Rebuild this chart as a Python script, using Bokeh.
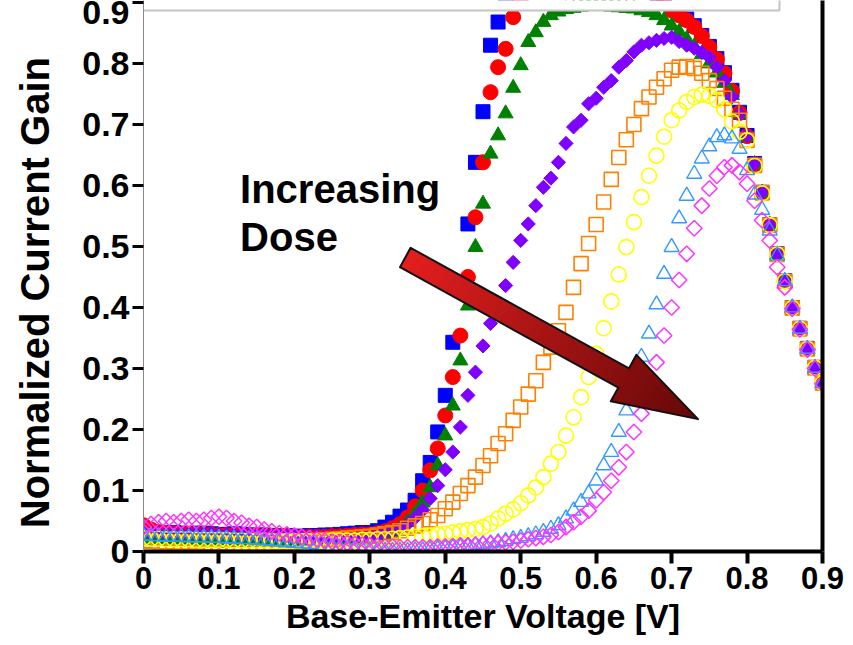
import math
from bokeh.plotting import figure
from bokeh.models import (Range1d, LinearAxis, FixedTicker, CustomJSTickFormatter,
                          ColumnDataSource)
from bokeh.core.properties import value
from bokeh.embed import file_html
from bokeh.resources import INLINE

# ---------------- data ----------------
VOLTAGE = [0.00, 0.01, 0.02, 0.03, 0.04, 0.05, 0.06, 0.07, 0.08, 0.09,
           0.10, 0.11, 0.12, 0.13, 0.14, 0.15, 0.16, 0.17, 0.18, 0.19,
           0.20, 0.21, 0.22, 0.23, 0.24, 0.25, 0.26, 0.27, 0.28, 0.29,
           0.30, 0.31, 0.32, 0.33, 0.34, 0.35, 0.36, 0.37, 0.38, 0.39,
           0.40, 0.41, 0.42, 0.43, 0.44, 0.45, 0.46, 0.47, 0.48, 0.49,
           0.50, 0.51, 0.52, 0.53, 0.54, 0.55, 0.56, 0.57, 0.58, 0.59,
           0.60, 0.61, 0.62, 0.63, 0.64, 0.65, 0.66, 0.67, 0.68, 0.69,
           0.70, 0.71, 0.72, 0.73, 0.74, 0.75, 0.76, 0.77, 0.78, 0.79,
           0.80, 0.81, 0.82, 0.83, 0.84, 0.85, 0.86, 0.87, 0.88, 0.89, 0.90]

GAIN_BLUE = [0.032, 0.031, 0.030, 0.030, 0.031, 0.030, 0.029, 0.030, 0.030, 0.029,
             0.028, 0.028, 0.029, 0.028, 0.027, 0.027, 0.027, 0.026, 0.026, 0.026,
             0.025, 0.025, 0.026, 0.026, 0.027, 0.027, 0.028, 0.029, 0.030, 0.031,
             0.031, 0.034, 0.040, 0.048, 0.058, 0.068, 0.084, 0.116, 0.146, 0.196,
             0.256, 0.343, 0.440, 0.537, 0.638, 0.721, 0.830, 0.868, 0.902, 0.925,
             0.940, 0.950, 0.958, 0.963, 0.967, 0.970, 0.972, 0.973, 0.973, 0.972,
             0.970, 0.967, 0.963, 0.958, 0.952, 0.945, 0.937, 0.927, 0.915, 0.903,
             0.890, 0.882, 0.873, 0.862, 0.846, 0.828, 0.808, 0.785, 0.756, 0.720,
             0.682, 0.636, 0.589, 0.536, 0.488, 0.444, 0.400, 0.366, 0.333, 0.302, 0.277]

GAIN_RED = [0.043, 0.036, 0.032, 0.030, 0.030, 0.029, 0.029, 0.028, 0.028, 0.028,
            0.027, 0.027, 0.027, 0.026, 0.026, 0.026, 0.025, 0.025, 0.025, 0.025,
            0.024, 0.024, 0.024, 0.024, 0.024, 0.025, 0.025, 0.026, 0.027, 0.028,
            0.028, 0.030, 0.033, 0.038, 0.045, 0.056, 0.074, 0.100, 0.133, 0.169,
            0.223, 0.286, 0.354, 0.450, 0.548, 0.638, 0.753, 0.794, 0.824, 0.876,
            0.905, 0.922, 0.935, 0.945, 0.952, 0.958, 0.962, 0.965, 0.966, 0.966,
            0.965, 0.963, 0.960, 0.955, 0.949, 0.942, 0.933, 0.923, 0.912, 0.900,
            0.887, 0.879, 0.871, 0.860, 0.845, 0.827, 0.807, 0.784, 0.755, 0.719,
            0.681, 0.635, 0.588, 0.535, 0.487, 0.443, 0.400, 0.365, 0.332, 0.301, 0.276]

GAIN_GREEN = [0.020, 0.018, 0.017, 0.017, 0.016, 0.016, 0.016, 0.015, 0.015, 0.015,
              0.015, 0.014, 0.014, 0.014, 0.015, 0.015, 0.015, 0.016, 0.016, 0.017,
              0.017, 0.018, 0.018, 0.019, 0.019, 0.020, 0.020, 0.021, 0.021, 0.022,
              0.022, 0.024, 0.027, 0.032, 0.038, 0.048, 0.062, 0.080, 0.105, 0.141,
              0.190, 0.239, 0.313, 0.403, 0.499, 0.570, 0.652, 0.682, 0.718, 0.760,
              0.797, 0.835, 0.851, 0.868, 0.879, 0.885, 0.889, 0.891, 0.893, 0.894,
              0.894, 0.894, 0.893, 0.892, 0.891, 0.890, 0.887, 0.884, 0.879, 0.871,
              0.862, 0.852, 0.840, 0.828, 0.815, 0.800, 0.785, 0.768, 0.748, 0.718,
              0.681, 0.635, 0.588, 0.536, 0.487, 0.443, 0.399, 0.365, 0.332, 0.301, 0.276]

GAIN_PURPLE = [0.031, 0.030, 0.030, 0.029, 0.030, 0.029, 0.029, 0.030, 0.029, 0.029,
               0.028, 0.028, 0.028, 0.027, 0.027, 0.027, 0.026, 0.026, 0.026, 0.025,
               0.025, 0.024, 0.024, 0.024, 0.023, 0.023, 0.023, 0.023, 0.024, 0.024,
               0.025, 0.027, 0.030, 0.033, 0.038, 0.045, 0.055, 0.068, 0.087, 0.108,
               0.134, 0.163, 0.204, 0.256, 0.294, 0.337, 0.374, 0.405, 0.436, 0.474,
               0.510, 0.537, 0.567, 0.597, 0.612, 0.638, 0.669, 0.696, 0.707, 0.734,
               0.743, 0.761, 0.772, 0.794, 0.805, 0.819, 0.830, 0.834, 0.838, 0.841,
               0.843, 0.836, 0.830, 0.825, 0.818, 0.810, 0.794, 0.772, 0.745, 0.718,
               0.682, 0.636, 0.589, 0.536, 0.488, 0.444, 0.400, 0.366, 0.333, 0.302, 0.277]

GAIN_ORANGE = [0.018, 0.017, 0.016, 0.016, 0.015, 0.015, 0.015, 0.015, 0.014, 0.014,
               0.014, 0.014, 0.013, 0.013, 0.013, 0.013, 0.013, 0.013, 0.014, 0.014,
               0.015, 0.016, 0.017, 0.018, 0.019, 0.020, 0.021, 0.022, 0.023, 0.024,
               0.025, 0.027, 0.029, 0.031, 0.034, 0.038, 0.042, 0.046, 0.052, 0.059,
               0.070, 0.081, 0.095, 0.108, 0.122, 0.141, 0.157, 0.177, 0.193, 0.215,
               0.237, 0.258, 0.280, 0.310, 0.335, 0.362, 0.392, 0.433, 0.472, 0.505,
               0.536, 0.573, 0.610, 0.646, 0.675, 0.700, 0.726, 0.745, 0.761, 0.775,
               0.789, 0.794, 0.795, 0.792, 0.784, 0.772, 0.759, 0.743, 0.725, 0.707,
               0.674, 0.633, 0.588, 0.535, 0.487, 0.443, 0.399, 0.365, 0.332, 0.301, 0.276]

GAIN_YELLOW = [0.022, 0.021, 0.021, 0.020, 0.020, 0.020, 0.020, 0.019, 0.019, 0.019,
               0.019, 0.019, 0.018, 0.018, 0.018, 0.018, 0.018, 0.017, 0.017, 0.017,
               0.017, 0.017, 0.017, 0.017, 0.017, 0.018, 0.018, 0.018, 0.018, 0.019,
               0.019, 0.020, 0.020, 0.021, 0.022, 0.023, 0.024, 0.025, 0.026, 0.028,
               0.029, 0.031, 0.033, 0.035, 0.037, 0.040, 0.046, 0.054, 0.062, 0.069,
               0.079, 0.092, 0.105, 0.122, 0.144, 0.163, 0.190, 0.220, 0.253, 0.286,
               0.324, 0.366, 0.410, 0.454, 0.499, 0.540, 0.581, 0.616, 0.649, 0.680,
               0.707, 0.723, 0.737, 0.745, 0.749, 0.747, 0.740, 0.725, 0.705, 0.688,
               0.674, 0.632, 0.587, 0.535, 0.487, 0.443, 0.399, 0.365, 0.332, 0.301, 0.276]

GAIN_LIGHTBLUE = [0.026, 0.025, 0.025, 0.024, 0.024, 0.024, 0.023, 0.023, 0.023, 0.022,
                  0.022, 0.021, 0.021, 0.020, 0.020, 0.019, 0.018, 0.017, 0.016, 0.015,
                  0.014, 0.013, 0.012, 0.010, 0.009, 0.008, 0.006, 0.005, 0.004, 0.003,
                  0.002, 0.002, 0.001, 0.001, 0.001, 0.001, 0.002, 0.002, 0.003, 0.004,
                  0.005, 0.006, 0.007, 0.008, 0.010, 0.012, 0.013, 0.015, 0.017, 0.020,
                  0.022, 0.025, 0.028, 0.032, 0.037, 0.043, 0.054, 0.067, 0.081, 0.095,
                  0.116, 0.141, 0.163, 0.196, 0.231, 0.275, 0.319, 0.357, 0.405, 0.455,
                  0.499, 0.546, 0.583, 0.619, 0.644, 0.664, 0.679, 0.682, 0.677, 0.660,
                  0.625, 0.585, 0.560, 0.526, 0.485, 0.443, 0.400, 0.365, 0.332, 0.301, 0.276]

GAIN_MAGENTA = [0.040, 0.045, 0.048, 0.050, 0.048, 0.050, 0.052, 0.050, 0.052, 0.055,
                0.057, 0.055, 0.050, 0.047, 0.042, 0.040, 0.036, 0.033, 0.030, 0.028,
                0.026, 0.024, 0.022, 0.020, 0.018, 0.016, 0.015, 0.014, 0.012, 0.011,
                0.010, 0.009, 0.008, 0.008, 0.007, 0.007, 0.007, 0.007, 0.007, 0.008,
                0.008, 0.009, 0.010, 0.010, 0.011, 0.012, 0.013, 0.014, 0.015, 0.016,
                0.018, 0.020, 0.022, 0.024, 0.027, 0.032, 0.040, 0.048, 0.057, 0.067,
                0.084, 0.097, 0.116, 0.138, 0.163, 0.196, 0.226, 0.268, 0.310, 0.354,
                0.400, 0.445, 0.488, 0.530, 0.567, 0.595, 0.616, 0.630, 0.633, 0.622,
                0.603, 0.575, 0.543, 0.510, 0.466, 0.433, 0.398, 0.364, 0.331, 0.300, 0.275]

X_TICKS = [0.0, 0.1, 0.2, 0.3, 0.4, 0.5, 0.6, 0.7, 0.8, 0.9]
Y_TICKS = [0.0, 0.1, 0.2, 0.3, 0.4, 0.5, 0.6, 0.7, 0.8, 0.9]
X_LABEL = "Base-Emitter Voltage [V]"
Y_LABEL = "Normalized Current Gain"
NOTE_LINES = ["Increasing", "Dose"]

# ---------------- layout constants ----------------
W, H = 853, 645
B_LEFT, B_RIGHT, B_TOP, B_BOTTOM = 143, 31, 0, 94
X0, X1 = 0.0, 0.9
Y0, Y1 = 0.0, 0.9033
FONT = "Liberation Sans"

p = figure(width=W, height=H, output_backend="svg", toolbar_location=None,
           x_range=Range1d(X0, X1), y_range=Range1d(Y0, Y1),
           min_border_left=B_LEFT, min_border_right=B_RIGHT,
           min_border_top=B_TOP, min_border_bottom=B_BOTTOM)
p.outline_line_color = None
p.grid.visible = False
p.background_fill_color = "white"
p.border_fill_color = "white"

fmt = CustomJSTickFormatter(code="return tick == 0 ? '0' : tick.toFixed(1);")

xa = p.xaxis[0]
xa.ticker = FixedTicker(ticks=X_TICKS)
xa.formatter = fmt
xa.axis_label = X_LABEL
xa.axis_label_text_font = FONT
xa.axis_label_text_font_style = "bold"
xa.axis_label_text_font_size = "34px"
xa.axis_label_text_color = "black"
xa.axis_label_standoff = 5
xa.major_label_text_font = FONT
xa.major_label_text_font_style = "bold"
xa.major_label_text_font_size = "31px"
xa.major_label_text_color = "black"
xa.major_label_standoff = 3
xa.axis_line_width = 4
xa.axis_line_color = "black"
xa.major_tick_line_width = 4
xa.major_tick_line_color = "black"
xa.major_tick_out = 12
xa.major_tick_in = 0
xa.minor_tick_line_color = None

ya = p.yaxis[0]
ya.ticker = FixedTicker(ticks=Y_TICKS)
ya.formatter = fmt
# trailing no-break spaces shift the centred label down to where the reference has it
ya.axis_label = Y_LABEL + "\u00a0\u00a0\u00a0"
ya.axis_label_text_font = FONT
ya.axis_label_text_font_style = "bold"
ya.axis_label_text_font_size = "40px"
ya.axis_label_text_color = "black"
ya.axis_label_standoff = 22
ya.major_label_text_font = FONT
ya.major_label_text_font_style = "bold"
ya.major_label_text_font_size = "34px"
ya.major_label_text_color = "black"
ya.major_label_standoff = 3
ya.axis_line_width = 1
ya.axis_line_color = "#8a8a8a"
ya.major_tick_line_width = 3
ya.major_tick_line_color = "black"
ya.major_tick_out = 11
ya.major_tick_in = 0
ya.minor_tick_line_color = None

ra = LinearAxis(ticker=FixedTicker(ticks=[]), axis_line_width=4, axis_line_color="black",
                major_tick_line_color=None, minor_tick_line_color=None,
                major_label_text_font_size="0px")
p.add_layout(ra, "right")

src = ColumnDataSource(dict(v=VOLTAGE, blue=GAIN_BLUE, red=GAIN_RED, green=GAIN_GREEN,
                            purple=GAIN_PURPLE, orange=GAIN_ORANGE, yellow=GAIN_YELLOW,
                            lightblue=GAIN_LIGHTBLUE, magenta=GAIN_MAGENTA))

p.scatter("v", "blue", source=src, marker="square", size=14,
          fill_color="#0000ff", line_color="#0000ff", line_width=1)
p.scatter("v", "red", source=src, marker="circle", size=15,
          fill_color="#ff0000", line_color="#ff0000", line_width=1)
p.scatter("v", "green", source=src, marker="triangle", size=15,
          fill_color="#008000", line_color="#008000", line_width=1)
p.scatter("v", "purple", source=src, marker="square", angle=math.pi / 4, size=10,
          fill_color="#7f00ff", line_color="#7f00ff", line_width=1)
p.scatter("v", "orange", source=src, marker="square", size=14,
          fill_color=None, line_color="#ff8000", line_width=1.6)
p.scatter("v", "yellow", source=src, marker="circle", size=15,
          fill_color=None, line_color="#ffff00", line_width=1.6)
p.scatter("v", "lightblue", source=src, marker="triangle", size=15,
          fill_color=None, line_color="#3399ff", line_width=1.4)
p.scatter("v", "magenta", source=src, marker="square", angle=math.pi / 4, size=11,
          fill_color=None, line_color="#ff33ff", line_width=1.5)

# ---------------- annotation arrow ----------------
ARROW_TAIL = (0.347, 0.482)
ARROW_TIP = (0.735, 0.217)
SHAFT_HALF_PX = 11
HEAD_HALF_PX = 26.5
HEAD_LEN_PX = 85
COL_START = (228, 30, 30)
COL_END = (100, 8, 8)

sx = (W - B_LEFT - B_RIGHT) / (X1 - X0)
sy = (H - B_TOP - B_BOTTOM) / (Y1 - Y0)
tx, ty = ARROW_TAIL[0] * sx, ARROW_TAIL[1] * sy
px_, py_ = ARROW_TIP[0] * sx, ARROW_TIP[1] * sy
L = math.hypot(px_ - tx, py_ - ty)
ux, uy = (px_ - tx) / L, (py_ - ty) / L
nx, ny = -uy, ux
Ls = L - HEAD_LEN_PX


def to_data(s, t):
    X = tx + s * ux + t * nx
    Y = ty + s * uy + t * ny
    return X / sx, Y / sy


def half(s):
    if s <= Ls:
        return SHAFT_HALF_PX
    return HEAD_HALF_PX * (L - s) / (L - Ls)


N_SHAFT, N_HEAD = 24, 8
bounds = [Ls * i / N_SHAFT for i in range(N_SHAFT + 1)] + \
         [Ls + (L - Ls) * i / N_HEAD for i in range(1, N_HEAD + 1)]
xs_list, ys_list, cols = [], [], []
for a, b in zip(bounds[:-1], bounds[1:]):
    if a < Ls:
        b2 = min(b + 1.0, Ls + 1.0)
        pts = [(a, -SHAFT_HALF_PX), (b2, -SHAFT_HALF_PX), (b2, SHAFT_HALF_PX), (a, SHAFT_HALF_PX)]
    else:
        b2 = min(b + 1.0, L)
        pts = [(a, -half(a)), (b2, -half(b2)), (b2, half(b2)), (a, half(a))]
    dpts = [to_data(s, t) for s, t in pts]
    xs_list.append([q[0] for q in dpts])
    ys_list.append([q[1] for q in dpts])
    f = ((a + b) / 2) / L
    c = tuple(int(round(COL_START[k] + (COL_END[k] - COL_START[k]) * f)) for k in range(3))
    cols.append("#%02x%02x%02x" % c)

p.patches(xs_list, ys_list, fill_color=cols, line_color=None)

outline = [(0, -SHAFT_HALF_PX), (Ls, -SHAFT_HALF_PX), (Ls, -HEAD_HALF_PX), (L, 0),
           (Ls, HEAD_HALF_PX), (Ls, SHAFT_HALF_PX), (0, SHAFT_HALF_PX)]
od = [to_data(s, t) for s, t in outline]
p.patch([q[0] for q in od], [q[1] for q in od], fill_color=None,
        line_color="#111111", line_width=2, line_join="round")

# ---------------- note text ----------------
NOTE_X = [0.128, 0.128]
NOTE_Y = [0.594, 0.516]
p.text(x=NOTE_X, y=NOTE_Y, text=NOTE_LINES, text_font=value(FONT),
       text_font_style="bold", text_font_size="40px", text_color="black",
       text_align="left", text_baseline="alphabetic")

# ---------------- cover box along the top edge ----------------
COVER_LEFT, COVER_RIGHT, COVER_BOTTOM, COVER_TOP = -0.05, 0.843, 0.887, 1.0
p.quad(left=[COVER_LEFT], right=[COVER_RIGHT], bottom=[COVER_BOTTOM], top=[COVER_TOP],
       fill_color="white", fill_alpha=1.0, line_color="#c4c4c4", line_width=2)

open("out.html", "w").write(file_html(p, INLINE))
